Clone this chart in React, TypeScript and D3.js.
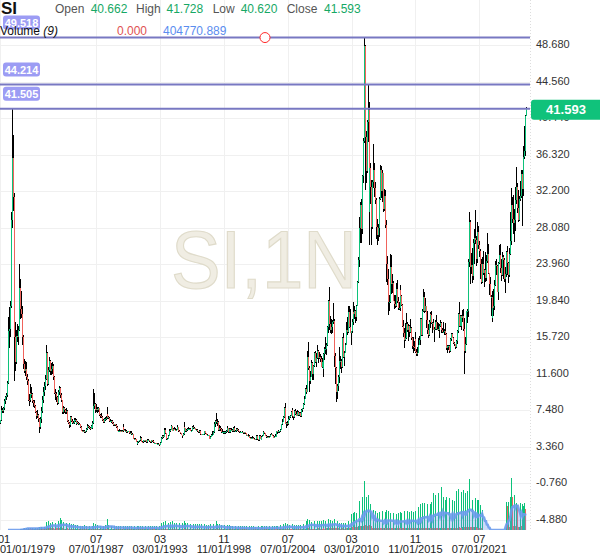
import React, {useEffect, useRef} from 'react';
import * as d3 from 'd3';

type Candle = [number, number, number, number]; // open, high, low, close

// SI,1N monthly candles, Jan 1979 onwards
const ohlc1979: Candle[] = [
    [6.05,6.45,5.95,6.35],[6.35,8.00,6.30,7.50],[7.50,7.75,7.15,7.45],[7.45,7.90,7.20,7.70],[7.70,8.75,7.55,8.50],[8.50,9.10,8.20,8.95],
    [8.95,9.40,8.60,9.20],[9.20,10.80,9.00,10.60],[10.60,18.00,10.50,16.40],[16.40,19.10,14.50,16.70],[16.70,19.80,15.80,19.20],[19.20,29.80,19.00,28.90],
    [28.90,41.50,28.00,35.90],[35.90,38.50,30.00,31.50],[31.50,32.00,10.80,15.80],[15.80,17.50,12.80,14.00],[14.00,15.00,11.90,12.90],[12.90,16.50,12.70,15.90],
    [15.90,17.20,15.20,15.80],[15.80,17.00,14.90,16.60],[16.60,24.00,16.40,21.30],[21.30,22.30,17.80,18.90],[18.90,20.90,17.90,18.40],[18.40,19.20,14.90,15.70],
    [15.70,16.00,12.20,12.70],[12.70,13.30,11.70,11.90],[11.90,13.00,11.40,12.20],[12.20,12.90,10.90,11.20],[11.20,11.60,10.30,10.80],[10.80,11.00,8.50,8.70],
    [8.70,9.30,8.00,8.60],[8.60,10.40,8.40,9.40],[9.40,10.00,8.80,9.30],[9.30,10.10,8.90,9.30],[9.30,9.40,8.30,8.50],[8.50,8.70,7.90,8.30],
    [8.30,8.60,7.80,8.00],[8.00,8.10,7.20,7.30],[7.30,7.40,6.50,6.80],[6.80,7.50,6.60,7.00],[7.00,7.10,6.20,6.50],[6.50,6.60,4.90,5.60],
    [5.60,6.70,5.40,6.50],[6.50,7.90,6.10,7.40],[7.40,9.10,7.20,8.60],[8.60,10.10,8.30,9.50],[9.50,10.70,9.10,10.20],[10.20,11.50,9.80,11.00],
    [11.00,13.50,10.90,13.00],[13.00,14.90,12.90,14.00],[14.00,14.10,10.20,10.50],[10.50,12.40,10.30,12.00],[12.00,13.50,11.80,13.00],[13.00,13.20,11.50,11.90],
    [11.90,12.80,11.50,12.20],[12.20,12.90,11.60,12.50],[12.50,12.70,10.90,11.20],[11.20,11.40,9.30,9.40],[9.40,9.90,8.60,9.30],[9.30,9.60,8.40,9.00],
    [9.00,9.10,8.10,8.30],[8.30,9.80,8.20,9.60],[9.60,10.20,9.20,10.00],[10.00,10.10,8.90,9.20],[9.20,9.40,8.60,9.00],[9.00,9.10,8.40,8.60],
    [8.60,8.70,7.10,7.30],[7.30,8.00,7.10,7.70],[7.70,7.90,7.20,7.50],[7.50,7.60,7.10,7.30],[7.30,7.80,7.10,7.40],[7.40,7.50,6.20,6.30],
    [6.30,6.40,5.90,6.10],[6.10,6.20,5.50,5.80],[5.80,6.90,5.60,6.70],[6.70,6.90,6.20,6.30],[6.30,6.50,6.00,6.10],[6.10,6.30,5.90,6.10],
    [6.10,6.60,6.00,6.40],[6.40,6.60,6.20,6.40],[6.40,6.50,5.80,6.00],[6.00,6.30,5.90,6.20],[6.20,6.30,6.00,6.10],[6.10,6.20,5.80,5.90],
    [5.90,6.10,5.80,5.90],[5.90,5.95,5.50,5.60],[5.60,5.70,5.10,5.20],[5.20,5.30,5.00,5.10],[5.10,5.30,5.00,5.20],[5.20,5.25,4.95,5.00],
    [5.00,5.20,4.90,5.10],[5.10,5.50,5.00,5.40],[5.40,5.90,5.30,5.70],[5.70,5.80,5.50,5.60],[5.60,5.70,5.40,5.50],[5.50,5.60,5.30,5.40],
    [5.40,5.80,5.35,5.70],[5.70,5.75,5.40,5.50],[5.50,6.30,5.45,6.10],[6.10,9.90,6.00,8.00],[8.00,9.40,7.60,8.20],[8.20,8.30,7.20,7.50],
    [7.50,8.20,7.30,7.60],[7.60,7.90,7.20,7.50],[7.50,7.90,7.30,7.70],[7.70,7.80,6.90,7.00],[7.00,7.10,6.60,6.90],[6.90,7.20,6.60,6.70],
    [6.70,6.80,6.30,6.40],[6.40,6.50,6.10,6.20],[6.20,6.60,6.10,6.50],[6.50,6.70,6.30,6.50],[6.50,6.80,6.40,6.60],[6.60,7.90,6.50,7.10],
    [7.10,7.30,6.60,6.70],[6.70,6.90,6.50,6.60],[6.60,6.70,6.20,6.30],[6.30,6.50,6.20,6.30],[6.30,6.40,6.10,6.30],[6.30,6.40,5.90,6.10],
    [6.10,6.20,5.70,5.80],[5.80,6.00,5.70,5.90],[5.90,6.00,5.70,5.80],[5.80,5.90,5.50,5.60],[5.60,5.70,5.10,5.20],[5.20,5.30,5.00,5.20],
    [5.20,5.40,5.10,5.20],[5.20,5.30,5.00,5.10],[5.10,5.30,5.00,5.20],[5.20,5.30,5.00,5.10],[5.10,5.70,5.05,5.60],[5.60,5.90,5.20,5.30],
];

const ohlc1990: Candle[] = [
    [5.30,5.40,5.10,5.20],[5.20,5.40,5.10,5.20],[5.20,5.25,4.90,5.00],[5.00,5.20,4.95,5.10],[5.10,5.20,5.00,5.10],[5.10,5.15,4.85,4.90],
    [4.90,5.10,4.85,4.90],[4.90,5.20,4.70,4.80],[4.80,4.90,4.65,4.80],[4.80,4.85,4.25,4.30],[4.30,4.40,4.15,4.30],[4.30,4.35,4.10,4.20],
    [4.20,4.25,3.90,3.90],[3.90,3.95,3.60,3.70],[3.70,4.00,3.55,3.90],[3.90,4.05,3.85,4.00],[4.00,4.15,3.95,4.10],[4.10,4.55,4.05,4.40],
    [4.40,4.45,3.90,3.95],[3.95,4.00,3.85,3.90],[3.90,4.15,3.85,4.10],[4.10,4.15,3.95,4.00],[4.00,4.15,3.95,4.10],[4.10,4.15,3.85,3.90],
    [3.90,4.20,3.85,4.10],[4.10,4.20,4.00,4.10],[4.10,4.15,3.95,4.00],[4.00,4.05,3.85,3.90],[3.90,4.15,3.85,4.10],[4.10,4.15,3.95,4.00],
    [4.00,4.10,3.85,3.90],[3.90,3.95,3.65,3.70],[3.70,3.85,3.65,3.80],[3.80,3.85,3.70,3.80],[3.80,3.85,3.65,3.70],[3.70,3.75,3.65,3.70],
    [3.70,3.75,3.60,3.70],[3.70,3.72,3.50,3.60],[3.60,3.90,3.55,3.80],[3.80,4.50,3.75,4.40],[4.40,4.70,4.30,4.60],[4.60,4.65,4.35,4.50],
    [4.50,5.45,4.45,5.30],[5.30,5.45,4.80,4.90],[4.90,4.95,4.15,4.20],[4.20,4.40,4.15,4.30],[4.30,4.70,4.25,4.60],[4.60,5.20,4.55,5.10],
    [5.10,5.35,4.95,5.10],[5.10,5.40,5.05,5.30],[5.30,5.80,5.25,5.70],[5.70,5.75,5.15,5.20],[5.20,5.50,5.15,5.40],[5.40,5.60,5.25,5.30],
    [5.30,5.50,5.15,5.20],[5.20,5.40,5.10,5.30],[5.30,5.80,5.25,5.60],[5.60,5.65,5.05,5.10],[5.10,5.30,5.00,5.00],[5.00,5.05,4.80,4.90],
    [4.90,4.95,4.65,4.70],[4.70,4.75,4.40,4.60],[4.60,4.95,4.55,4.80],[4.80,6.20,4.75,5.60],[5.60,5.75,5.30,5.50],[5.50,5.55,5.00,5.10],
    [5.10,5.40,5.00,5.30],[5.30,5.50,5.20,5.40],[5.40,5.60,5.30,5.40],[5.40,5.50,5.30,5.40],[5.40,5.45,5.15,5.20],[5.20,5.30,5.10,5.20],
    [5.20,5.70,5.15,5.60],[5.60,5.80,5.40,5.50],[5.50,5.60,5.40,5.50],[5.50,5.55,5.25,5.30],[5.30,5.40,5.20,5.30],[5.30,5.35,5.05,5.10],
    [5.10,5.15,4.95,5.00],[5.00,5.25,4.95,5.20],[5.20,5.25,4.85,4.90],[4.90,4.95,4.70,4.80],[4.80,4.85,4.65,4.70],[4.70,4.85,4.65,4.80],
    [4.80,4.85,4.65,4.80],[4.80,5.20,4.75,5.10],[5.10,5.20,4.85,4.90],[4.90,4.95,4.65,4.70],[4.70,4.80,4.65,4.70],[4.70,4.75,4.55,4.70],
    [4.70,4.75,4.20,4.30],[4.30,4.60,4.25,4.50],[4.50,4.80,4.45,4.70],[4.70,5.10,4.65,4.70],[4.70,5.10,4.65,5.00],[5.00,6.20,4.95,6.00],
    [6.00,6.40,5.60,6.30],[6.30,7.20,5.90,6.30],[6.30,6.60,5.90,6.20],[6.20,6.50,5.70,6.20],[6.20,6.30,5.15,5.30],[5.30,5.80,5.10,5.50],
    [5.50,5.70,5.20,5.40],[5.40,5.45,4.95,5.00],[5.00,5.40,4.95,5.00],[5.00,5.20,4.80,5.00],[5.00,5.20,4.85,5.00],[5.00,5.10,4.80,5.00],
    [5.00,5.30,4.95,5.10],[5.10,5.70,5.05,5.50],[5.50,5.55,4.95,5.00],[5.00,5.45,4.90,5.40],[5.40,5.45,4.95,5.00],[5.00,5.35,4.95,5.30],
    [5.30,5.45,5.15,5.30],[5.30,5.35,5.05,5.10],[5.10,5.60,5.05,5.50],[5.50,5.70,5.05,5.10],[5.10,5.30,5.05,5.10],[5.10,5.45,5.05,5.40],
];

const ohlc2000: Candle[] = [
    [5.40,5.45,5.15,5.30],[5.30,5.40,5.05,5.10],[5.10,5.15,4.95,5.00],[5.00,5.10,4.90,5.00],[5.00,5.05,4.90,5.00],[5.00,5.10,4.90,5.00],
    [5.00,5.05,4.85,4.90],[4.90,5.05,4.85,5.00],[5.00,5.05,4.85,4.90],[4.90,4.95,4.65,4.70],[4.70,4.80,4.60,4.70],[4.70,4.75,4.55,4.60],
    [4.60,4.80,4.55,4.60],[4.60,4.65,4.35,4.40],[4.40,4.45,4.25,4.30],[4.30,4.45,4.25,4.40],[4.40,4.60,4.35,4.40],[4.40,4.45,4.25,4.30],
    [4.30,4.35,4.15,4.20],[4.20,4.30,4.15,4.20],[4.20,4.70,4.15,4.60],[4.60,4.65,4.10,4.20],[4.20,4.25,4.00,4.10],[4.10,4.65,4.05,4.60],
    [4.60,4.65,4.20,4.20],[4.20,4.40,4.15,4.30],[4.30,4.60,4.25,4.50],[4.50,4.65,4.45,4.60],[4.60,5.10,4.55,5.00],[5.00,5.05,4.80,4.90],
    [4.90,4.95,4.55,4.60],[4.60,4.65,4.40,4.50],[4.50,4.60,4.40,4.50],[4.50,4.55,4.35,4.40],[4.40,4.60,4.35,4.50],[4.50,4.80,4.45,4.70],
    [4.70,4.95,4.65,4.80],[4.80,4.85,4.55,4.60],[4.60,4.65,4.35,4.40],[4.40,4.60,4.35,4.50],[4.50,4.80,4.45,4.60],[4.60,4.70,4.45,4.60],
    [4.60,5.20,4.55,5.10],[5.10,5.20,4.85,5.00],[5.00,5.30,4.95,5.10],[5.10,5.20,4.95,5.10],[5.10,5.40,5.05,5.30],[5.30,6.00,5.25,5.90],
    [5.90,6.50,5.85,6.20],[6.20,6.80,6.15,6.70],[6.70,7.90,6.60,7.80],[7.80,8.30,5.90,6.00],[6.00,6.20,5.50,6.10],[6.10,6.30,5.70,5.90],
    [5.90,6.80,5.85,6.50],[6.50,6.90,6.40,6.80],[6.80,7.00,6.60,6.90],[6.90,7.40,6.80,7.30],[7.30,7.80,7.20,7.50],[7.50,7.60,6.60,6.80],
    [6.80,6.90,6.40,6.70],[6.70,7.50,6.65,7.40],[7.40,7.60,7.00,7.10],[7.10,7.40,6.90,6.90],[6.90,7.50,6.85,7.30],[7.30,7.40,6.90,7.00],
    [7.00,7.30,6.80,7.20],[7.20,7.30,6.70,6.80],[6.80,7.60,6.75,7.50],[7.50,7.80,7.30,7.70],[7.70,8.30,7.60,8.20],[8.20,9.10,8.10,8.80],
    [8.80,10.00,8.75,9.90],[9.90,10.30,9.30,9.60],[9.60,11.70,9.50,11.60],[11.60,14.20,11.50,13.50],[13.50,15.20,12.00,12.30],[12.30,12.50,9.50,10.80],
    [10.80,11.90,10.40,11.30],[11.30,13.20,11.20,12.80],[12.80,12.90,10.90,11.60],[11.60,12.60,10.90,12.50],[12.50,14.10,12.40,13.90],[13.90,14.20,12.80,12.90],
    [12.90,13.90,12.40,13.40],[13.40,14.90,13.30,14.20],[14.20,14.30,12.80,13.40],[13.40,14.10,13.30,13.50],[13.50,13.80,12.90,13.30],[13.30,13.60,12.40,12.40],
    [12.40,13.40,12.30,12.90],[12.90,13.00,11.20,12.20],[12.20,13.90,11.90,13.80],[13.80,14.60,13.20,14.40],[14.40,15.80,13.80,14.40],[14.40,15.10,13.70,14.80],
    [14.80,17.00,14.70,16.90],[16.90,19.90,16.20,19.80],[19.80,21.40,16.50,17.20],[17.20,18.10,16.20,16.50],[16.50,17.80,16.10,16.90],[16.90,17.70,16.20,17.50],
    [17.50,19.60,17.20,17.60],[17.60,17.80,12.40,13.60],[13.60,13.90,10.50,12.30],[12.30,12.40,8.40,9.50],[9.50,10.50,8.80,10.20],[10.20,11.50,9.70,11.30],
    [11.30,12.80,10.60,12.60],[12.60,14.60,12.40,13.10],[13.10,13.60,12.10,13.10],[13.10,13.30,11.70,12.40],[12.40,15.70,12.30,15.60],[15.60,16.20,13.40,13.50],
    [13.50,14.20,12.50,14.00],[14.00,15.10,13.90,14.90],[14.90,17.40,14.80,16.60],[16.60,18.00,16.00,16.30],[16.30,19.20,16.20,18.60],[18.60,19.30,16.80,16.90],
];

const ohlc2010: Candle[] = [
    [16.90,18.90,16.20,16.20],[16.20,16.40,14.80,16.40],[16.40,17.80,16.20,17.50],[17.50,18.80,17.30,18.60],[18.60,19.70,17.10,18.40],[18.40,19.20,17.80,18.70],
    [18.70,18.80,17.30,18.00],[18.00,19.40,17.60,19.30],[19.30,22.10,19.20,22.00],[22.00,24.80,21.90,24.40],[24.40,29.30,23.70,28.00],[28.00,31.00,26.30,30.60],
    [30.60,31.30,26.40,27.90],[27.90,34.00,27.40,33.90],[33.90,38.20,33.10,37.90],[37.90,49.50,37.60,48.60],[48.60,48.70,32.30,38.30],[38.30,39.00,33.10,34.50],
    [34.50,40.20,34.30,40.00],[40.00,44.30,37.70,41.40],[41.40,42.20,26.10,29.90],[29.90,35.70,29.40,34.80],[34.80,35.40,30.70,32.70],[32.70,33.50,26.10,28.20],
    [28.20,33.50,27.90,33.20],[33.20,37.50,32.60,34.60],[34.60,35.40,31.50,32.50],[32.50,33.20,30.80,31.20],[31.20,31.40,26.80,28.20],[28.20,29.10,26.10,27.30],
    [27.30,28.50,26.60,28.00],[28.00,31.50,27.00,31.30],[31.30,35.10,31.20,34.60],[34.60,35.00,31.40,32.20],[32.20,34.60,31.00,34.20],[34.20,34.30,29.80,30.20],
    [30.20,32.40,30.00,31.70],[31.70,32.30,28.20,28.60],[28.60,29.30,28.00,28.40],[28.40,28.90,22.00,24.00],[24.00,24.90,21.60,22.30],[22.30,23.40,18.20,19.70],
    [19.70,20.50,18.70,19.70],[19.70,25.10,19.60,23.60],[23.60,25.00,20.60,21.70],[21.70,22.90,20.70,21.90],[21.90,22.10,19.80,19.80],[19.80,20.50,18.90,19.50],
    [19.50,20.50,19.00,19.20],[19.20,21.80,19.10,21.20],[21.20,22.20,19.60,19.80],[19.80,20.30,18.80,19.00],[19.00,19.70,18.80,19.00],[19.00,21.20,18.70,21.00],
    [21.00,21.60,20.20,20.40],[20.40,20.50,19.30,19.40],[19.40,19.50,16.90,17.00],[17.00,17.70,15.80,16.20],[16.20,16.80,14.50,15.40],[15.40,17.30,15.30,15.60],
    [15.60,18.50,15.50,17.20],[17.20,17.50,16.30,16.60],[16.60,17.20,15.30,17.00],[17.00,17.10,15.70,16.30],[16.30,17.80,16.20,16.80],[16.80,16.90,15.40,15.60],
    [15.60,15.80,14.40,14.70],[14.70,15.70,13.90,14.60],[14.60,15.30,14.20,14.50],[14.50,16.30,14.40,15.50],[15.50,15.60,13.90,14.10],[14.10,14.40,13.60,13.80],
    [13.80,14.60,13.60,14.00],[14.00,15.60,13.90,14.80],[14.80,15.90,14.80,15.40],[15.40,17.90,14.90,17.80],[17.80,17.90,15.90,16.00],[16.00,18.90,15.90,18.70],
    [18.70,21.20,18.60,20.30],[20.30,20.80,18.50,18.70],[18.70,20.10,18.60,19.20],[19.20,19.30,16.80,17.70],[17.70,18.70,16.10,16.50],[16.50,17.20,15.60,16.00],
    [16.00,17.70,15.90,17.50],[17.50,18.50,17.30,18.40],[18.40,18.60,16.80,18.20],[18.20,18.70,17.20,17.30],[17.30,17.50,16.20,17.30],[17.30,17.80,16.50,16.60],
    [16.60,16.90,15.20,16.70],[16.70,17.70,16.50,17.50],[17.50,18.20,16.60,16.70],[16.70,17.50,16.50,16.70],[16.70,17.30,16.40,16.50],[16.50,17.20,15.60,17.00],
    [17.00,17.70,16.90,17.30],[17.30,17.40,16.20,16.50],[16.50,16.80,16.20,16.30],[16.30,17.40,16.20,16.30],[16.30,16.70,16.00,16.40],[16.40,17.30,16.00,16.10],
    [16.10,16.20,15.40,15.50],[15.50,15.60,14.30,14.50],[14.50,14.80,13.90,14.70],[14.70,14.90,14.30,14.70],[14.70,14.80,13.90,14.20],[14.20,15.60,14.10,15.50],
    [15.50,16.20,15.30,16.10],[16.10,16.20,15.60,15.60],[15.60,15.70,15.00,15.10],[15.10,15.20,14.70,15.00],[15.00,15.00,14.40,14.60],[14.60,15.40,14.50,15.30],
    [15.30,16.60,15.00,16.40],[16.40,18.50,16.20,18.40],[18.40,19.70,16.90,17.00],[17.00,18.20,16.90,18.10],[18.10,18.20,16.60,17.00],[17.00,18.00,16.60,17.90],
];

const ohlc2020: Candle[] = [
    [17.90,18.80,17.40,18.10],[18.10,18.90,16.40,16.70],[16.70,17.90,11.60,14.20],[14.20,15.80,14.00,15.00],[15.00,18.70,14.80,18.70],[18.70,18.90,17.30,18.70],
    [18.70,24.60,18.00,24.20],[24.20,29.90,23.70,28.70],[28.70,28.90,21.70,23.60],[23.60,25.20,22.90,23.90],[23.90,25.80,21.80,22.60],[22.60,26.80,22.20,26.40],
    [26.40,27.90,24.00,26.90],[26.90,30.10,26.20,26.70],[26.70,27.10,23.80,24.50],[24.50,26.60,24.10,26.00],[26.00,28.70,25.80,27.60],[27.60,28.30,25.70,26.10],
    [26.10,26.60,24.80,25.50],[25.50,25.70,22.30,24.00],[24.00,24.50,21.70,22.00],[22.00,24.80,21.90,24.00],[24.00,25.40,22.70,23.00],[23.00,23.40,21.40,23.30],
    [23.30,25.30,22.00,22.40],[22.40,25.00,22.10,24.30],[24.30,27.50,24.10,25.10],[25.10,26.20,22.90,23.00],[23.00,23.00,20.50,21.70],[21.70,22.50,20.30,20.30],
    [20.30,20.50,18.10,20.30],[20.30,20.90,17.60,17.90],[17.90,19.80,17.40,19.00],[19.00,21.20,18.10,19.20],[19.20,22.20,18.80,21.60],[21.60,24.30,21.50,23.90],
    [23.90,24.50,22.80,23.80],[23.80,23.90,20.80,20.80],[20.80,24.20,19.90,24.10],[24.10,26.10,24.00,25.00],[25.00,26.20,23.00,23.50],[23.50,24.50,22.10,22.80],
    [22.80,25.30,22.60,24.80],[24.80,25.00,22.30,24.40],[24.40,24.70,22.00,22.30],[22.30,23.60,20.70,22.90],[22.90,25.50,22.50,25.30],[25.30,26.00,22.70,24.10],
    [24.10,24.20,22.30,22.90],[22.90,23.40,21.90,22.70],[22.70,25.80,22.50,25.10],[25.10,29.80,25.00,26.60],[26.60,32.50,26.10,30.60],[30.60,31.50,28.60,29.10],
    [29.10,31.80,27.40,28.60],[28.60,30.20,26.50,28.90],[28.90,32.70,27.70,31.20],[31.20,34.90,30.80,32.70],[32.70,33.10,29.70,30.30],[30.30,32.30,28.70,28.90],
    [28.90,31.70,28.80,31.30],[31.30,33.40,31.10,31.70],[31.70,34.60,31.40,34.10],[34.10,34.60,28.30,32.40],[32.40,33.70,31.70,33.00],[33.00,37.30,32.80,36.00],
    [36.00,39.50,35.80,36.70],[36.70,40.80,36.20,40.66],[40.662,41.728,40.62,41.593],
];

// monthly volume, thousands of contracts
const volume1979 = [
    0,0,0,0,0,0,0,0,0,0,0,0,
    0,0,0,0,0,0,0,0,0,20,40,25,
    30,55,30,60,35,55,30,60,30,25,55,30,
    30,60,35,65,35,80,40,90,40,35,85,45,
    50,215,60,230,55,190,50,215,45,40,200,50,
    45,240,55,325,50,270,45,215,40,40,190,45,
    40,190,40,160,35,150,35,135,30,30,130,30,
    30,120,30,110,30,135,30,120,30,30,110,30,
    30,120,35,190,40,150,35,135,30,30,120,30,
    30,120,30,135,30,300,35,135,30,30,110,30,
    30,110,30,120,30,110,30,120,30,30,110,30,
];
const volume1990 = [
    30,120,30,110,30,100,25,110,25,25,100,25,
    25,120,25,110,25,120,25,100,25,25,110,25,
    25,110,25,100,25,110,25,100,25,25,100,25,
    25,110,30,200,35,215,40,240,35,30,190,35,
    35,215,35,230,35,200,30,190,30,30,180,30,
    30,190,35,245,35,190,30,180,30,30,160,30,
    30,170,30,160,30,150,30,160,30,25,150,25,
    25,150,25,140,25,135,25,150,25,25,160,30,
    35,230,30,170,30,150,25,140,25,25,135,25,
    25,130,25,135,25,120,25,110,25,25,110,25,
];
const volume2000 = [
    25,110,25,100,25,95,20,100,20,20,95,20,
    20,95,20,100,20,95,20,90,20,20,100,20,
    20,100,20,110,25,120,20,100,20,20,100,20,
    20,110,20,100,20,110,25,120,25,25,130,30,
    30,160,35,190,30,150,30,140,30,25,150,30,
    30,140,30,135,30,140,30,130,30,30,160,35,
    40,240,45,300,50,280,40,220,40,35,230,40,
    40,250,45,230,40,240,40,270,45,40,240,45,
    50,300,55,280,45,250,45,290,55,50,230,45,
    40,190,40,180,45,200,40,190,45,45,230,50,
];
const volume2010 = [
    60,420,70,460,75,480,70,470,90,100,780,110,
    110,900,120,1320,140,900,110,950,130,100,700,100,
    60,540,55,500,55,470,50,480,55,50,500,50,
    50,480,55,540,60,520,50,470,50,45,450,45,
    45,440,45,470,45,480,45,470,50,45,500,50,
    50,520,45,480,45,500,50,480,45,45,520,50,
    55,620,60,700,60,740,65,720,60,55,700,60,
    60,700,60,760,65,1000,60,950,60,55,1000,60,
    65,1160,60,880,60,820,60,900,60,55,850,60,
    60,800,60,780,60,1050,65,1100,70,60,1020,65,
];
const volume2020 = [
    70,1080,80,1000,70,1050,80,1380,90,70,820,70,
    70,860,70,800,60,820,60,675,55,540,0,0,
    0,0,0,0,0,0,0,0,0,0,0,0,
    0,0,0,0,0,0,0,0,0,0,755,650,
    90,760,90,900,1400,900,100,945,110,730,680,90,
    90,720,95,700,90,650,720,578,0,
];

const firstMonth = '01/01/1979';
const xTickDates = ['01/01/1979', '07/01/1987', '03/01/1993', '11/01/1998', '07/01/2004', '03/01/2010', '11/01/2015', '07/01/2021'];
const yTicks = [48.68, 44.56, 40.44, 36.32, 32.2, 28.08, 23.96, 19.84, 15.72, 11.6, 7.48, 3.36, -0.76, -4.88];
const levelLines = [49.518, 44.214, 41.505];
const quoteLabels = ['Open', 'High', 'Low', 'Close'];
const quoteValues = [40.662, 41.728, 40.62, 41.593];
const maPeriod = 9;
const maValue = 404770.889;

const UP = '#0dc27a';
const DOWN = '#f0635c';
const FONT = "'Liberation Sans', Arial, sans-serif";

const App: React.FC = () => {
    const ref = useRef<SVGSVGElement>(null);

    useEffect(() => {
        const svg = d3.select(ref.current);
        svg.selectAll('*').remove();

        const plotW = 530, plotH = 530;
        const parse = d3.timeParse('%m/%d/%Y');
        const start = parse(firstMonth)!;
        const raw = [...ohlc1979, ...ohlc1990, ...ohlc2000, ...ohlc2010, ...ohlc2020];
        const vols = [...volume1979, ...volume1990, ...volume2000, ...volume2010, ...volume2020];
        const data = raw.map((c, i) => ({
            date: d3.timeMonth.offset(start, i),
            open: c[0], high: c[1], low: c[2], close: c[3],
            volume: (vols[i] ?? 0) * 1000,
        }));
        const ma = data.map((d, i) => i < maPeriod - 1 ? null
            : d3.mean(data.slice(i - maPeriod + 1, i + 1), (e) => e.volume)!);

        const x = d3.scaleTime().domain(d3.extent(data, (d) => d.date) as [Date, Date]).range([0.45, 526.3]);
        const y = d3.scaleLinear().domain([-4.88, 48.68]).range([520, 45]);
        const yv = d3.scaleLinear().domain([0, 1400000]).range([530, 478]);

        svg.append('rect').attr('width', 600).attr('height', 558).attr('fill', '#fff');

        // grid
        const grid = svg.append('g').attr('stroke', '#f0f0f0').attr('stroke-width', 1).attr('shape-rendering', 'crispEdges');
        grid.selectAll('.hg').data(yTicks).enter().append('line')
            .attr('x1', 0).attr('x2', plotW).attr('y1', (d) => Math.round(y(d)) + 0.5).attr('y2', (d) => Math.round(y(d)) + 0.5);
        grid.selectAll('.vg').data(xTickDates).enter().append('line')
            .attr('y1', 0).attr('y2', plotH).attr('x1', (d) => Math.round(x(parse(d)!)) + 0.5).attr('x2', (d) => Math.round(x(parse(d)!)) + 0.5);

        // watermark
        svg.append('text').attr('x', 171).attr('y', 288)
            .attr('font-family', FONT).attr('font-size', 81)
            .attr('textLength', 186).attr('lengthAdjust', 'spacingAndGlyphs')
            .attr('fill', '#f0ede3').attr('stroke', '#dfdbca').attr('stroke-width', 1.2)
            .text('SI,1N');

        svg.append('clipPath').attr('id', 'plot').append('rect').attr('width', plotW).attr('height', plotH);
        const plot = svg.append('g').attr('clip-path', 'url(#plot)');

        // volume bars, coloured by change against previous month
        plot.append('g').attr('shape-rendering', 'crispEdges').selectAll('rect')
            .data(data.filter((d) => d.volume > 0)).enter().append('rect')
            .attr('x', (d) => Math.round(x(d.date)))
            .attr('width', 1)
            .attr('y', (d) => yv(d.volume))
            .attr('height', (d) => 530 - yv(d.volume))
            .attr('fill', (d) => {
                const i = data.indexOf(d);
                return i > 0 && d.volume < data[i - 1].volume ? DOWN : UP;
            });

        const maPts = data.map((d, i) => ({date: d.date, v: ma[i]})).filter((d) => d.v !== null) as {date: Date, v: number}[];
        plot.append('path').datum(maPts)
            .attr('d', d3.area<{date: Date, v: number}>().x((d) => x(d.date)).y0(530).y1((d) => yv(d.v)))
            .attr('fill', 'rgba(110,150,235,0.35)');
        plot.append('path').datum(maPts)
            .attr('d', d3.line<{date: Date, v: number}>().x((d) => x(d.date)).y((d) => yv(d.v)))
            .attr('fill', 'none').attr('stroke', '#6b9bec').attr('stroke-width', 2.5).attr('stroke-opacity', 0.9);

        // candles
        const cg = plot.append('g').attr('shape-rendering', 'crispEdges');
        cg.selectAll('.wick').data(data).enter().append('line')
            .attr('x1', (d) => Math.round(x(d.date)) + 0.5).attr('x2', (d) => Math.round(x(d.date)) + 0.5)
            .attr('y1', (d) => y(d.high)).attr('y2', (d) => y(d.low))
            .attr('stroke', '#000').attr('stroke-width', 1);
        cg.selectAll('.body').data(data).enter().append('rect')
            .attr('x', (d) => Math.round(x(d.date)))
            .attr('width', 1)
            .attr('y', (d) => y(Math.max(d.open, d.close)))
            .attr('height', (d) => Math.max(1, Math.abs(y(d.open) - y(d.close))))
            .attr('fill', (d) => d.close >= d.open ? UP : DOWN);

        // level lines
        svg.selectAll('.lvl').data(levelLines).enter().append('line')
            .attr('x1', 0).attr('x2', plotW).attr('y1', (d) => y(d)).attr('y2', (d) => y(d))
            .attr('stroke', '#7878c2').attr('stroke-width', 2);
        svg.append('circle').attr('cx', 265).attr('cy', y(levelLines[0])).attr('r', 5)
            .attr('fill', '#fff').attr('stroke', '#ff2a2a').attr('stroke-width', 1);
        const badges = svg.selectAll('.badge').data(levelLines).enter().append('g')
            .attr('transform', (d) => `translate(3,${y(d) - 22})`);
        badges.append('rect').attr('width', 37).attr('height', 14).attr('rx', 3).attr('fill', '#9c9cf4');
        badges.append('text').attr('x', 18.5).attr('y', 11).attr('text-anchor', 'middle')
            .attr('font-family', FONT).attr('font-size', 11).attr('font-weight', 'bold').attr('fill', '#fff')
            .text((d) => d.toFixed(3));

        // right axis
        svg.append('line').attr('x1', plotW + 0.5).attr('x2', plotW + 0.5).attr('y1', 0).attr('y2', plotH)
            .attr('stroke', '#dddddd').attr('stroke-dasharray', '1,2');
        svg.selectAll('.yl').data(yTicks).enter().append('text')
            .attr('x', 536).attr('y', (d) => y(d) + 3)
            .attr('font-family', FONT).attr('font-size', 11).attr('fill', '#333')
            .text((d) => d.toFixed(3));

        // last price
        const lastClose = data[data.length - 1].close;
        svg.append('rect').attr('x', 531).attr('y', y(lastClose) - 8).attr('width', 75).attr('height', 20).attr('rx', 3).attr('fill', '#10c27b');
        svg.append('text').attr('x', 566).attr('y', y(lastClose) + 6.5).attr('text-anchor', 'middle')
            .attr('font-family', FONT).attr('font-size', 13).attr('font-weight', 'bold').attr('fill', '#fff')
            .text(lastClose.toFixed(3));

        // bottom axis
        const fmtMonth = d3.timeFormat('%m');
        xTickDates.forEach((s) => {
            const px = x(parse(s)!);
            const m = svg.append('text').attr('x', px).attr('y', 543).attr('text-anchor', 'middle')
                .attr('font-family', FONT).attr('font-size', 11).attr('fill', '#222')
                .text(fmtMonth(parse(s)!));
            const mw = (m.node() as SVGTextElement).getComputedTextLength();
            if (px - mw / 2 < 0) m.attr('x', -2).attr('text-anchor', 'start');
            const t = svg.append('text').attr('x', px).attr('y', 553).attr('text-anchor', 'middle')
                .attr('font-family', FONT).attr('font-size', 11).attr('fill', '#222')
                .text(s);
            const w = (t.node() as SVGTextElement).getComputedTextLength();
            if (px - w / 2 < 0) t.attr('x', 0).attr('text-anchor', 'start');
        });

        // header
        svg.append('text').attr('x', 1).attr('y', 13.5).attr('font-family', FONT).attr('font-size', 17)
            .attr('font-weight', 'bold').attr('fill', '#111').text('SI');
        const labelX = [55, 136, 212.7, 286.7];
        const valueX = [90.7, 166.5, 240.7, 324];
        quoteLabels.forEach((l, i) => {
            svg.append('text').attr('x', labelX[i]).attr('y', 13).attr('font-family', FONT).attr('font-size', 12)
                .attr('fill', '#555').text(l);
            svg.append('text').attr('x', valueX[i]).attr('y', 13).attr('font-family', FONT).attr('font-size', 12)
                .attr('fill', '#16a865').text(quoteValues[i].toFixed(3));
        });
        const vt = svg.append('text').attr('x', 0).attr('y', 34.5).attr('font-family', FONT).attr('font-size', 12).attr('fill', '#111');
        vt.append('tspan').text('Volume ');
        vt.append('tspan').attr('font-style', 'italic').text(`(${maPeriod})`);
        svg.append('text').attr('x', 117).attr('y', 34.5).attr('font-family', FONT).attr('font-size', 12)
            .attr('fill', '#e05252').text((data[data.length - 1].volume).toFixed(3));
        svg.append('text').attr('x', 163).attr('y', 34.5).attr('font-family', FONT).attr('font-size', 12)
            .attr('fill', '#5b8def').text(maValue.toFixed(3));
    }, []);

    return <svg ref={ref} width={600} height={558} style={{position: 'absolute', left: 0, top: 0}} />;
};

export default App;
